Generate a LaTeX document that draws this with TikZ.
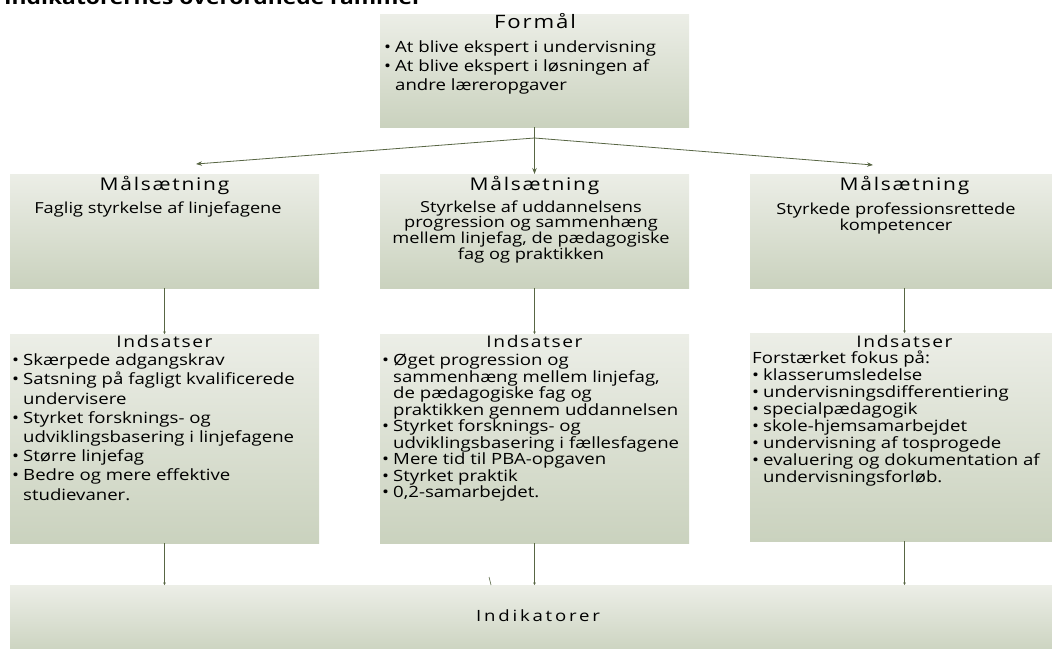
\documentclass[tikz,border=0pt]{standalone}
\usepackage{fontspec}
\setmainfont{Open Sans}[FakeStretch=1.2]
\newfontfamily\hfont{Open Sans}[FakeStretch=1.2,LetterSpace=10]
\newfontfamily\ifont{Open Sans}[FakeStretch=1.2,LetterSpace=18]
\usetikzlibrary{arrows.meta}
\definecolor{boxtop}{RGB}{236,238,231}
\definecolor{boxbot}{RGB}{202,210,190}
\definecolor{conn}{RGB}{88,102,68}
\newcommand\bl{\makebox[0pt][r]{\textbullet\hspace{4pt}}}
\newcommand\fl{\rule{0pt}{13pt}}
\begin{document}
\begin{tikzpicture}[x=1pt,y=-1pt,
  box/.style={rectangle,draw=none,inner sep=0,outer sep=0,top color=boxtop,bottom color=boxbot,anchor=north west},
  head/.style={inner sep=0,anchor=base,font=\hfont\fontsize{17.5}{20}\selectfont},
  body/.style={inner sep=0,anchor=north west,align=left,font=\fontsize{15.5}{19.2}\selectfont},
  goal/.style={inner sep=0,anchor=north,align=center,font=\fontsize{15.2}{15.6}\selectfont},
  link/.style={draw=conn,line width=0.8pt},
  arr/.style={-{Stealth[length=6pt,width=4.5pt]}},
  tiny/.style={-{Stealth[length=2.5pt,width=2.5pt]}}]
\useasboundingbox (0,0) rectangle (1052,648);
% boxes
\node[box,minimum width=309pt,minimum height=113pt] (f) at (380,14) {};
\node[box,minimum width=309pt,minimum height=114pt] (m1) at (10,174) {};
\node[box,minimum width=309pt,minimum height=114pt] (m2) at (380,174) {};
\node[box,minimum width=309pt,minimum height=114pt] (m3) at (750,174) {};
\node[box,minimum width=309pt,minimum height=209pt] (i1) at (10,334) {};
\node[box,minimum width=309pt,minimum height=209pt] (i2) at (380,334) {};
\node[box,minimum width=309pt,minimum height=208pt] (i3) at (750,333) {};
\node[box,minimum width=1050pt,minimum height=70pt] (ind) at (10,585) {};
% title (cut by the top edge)
\node[inner sep=0,anchor=base west,font=\bfseries\fontsize{19}{20}\selectfont] (title) at (4,4.5) {Indikatorernes overordnede rammer};
% Formål
\node[head,font=\hfont\fontsize{18.5}{20}\selectfont] (fh) at (535,28.3) {Formål};
\node[body] (fb) at (395,39) {\bl\fl At blive ekspert i undervisning\\ \bl At blive ekspert i løsningen af\\ andre læreropgaver};
% Målsætning
\node[head] (m1h) at (164.5,190) {Målsætning};
\node[head] (m2h) at (534.5,190) {Målsætning};
\node[head] (m3h) at (904.5,190) {Målsætning};
\node[goal] (m1b) at (158,200) {\fl Faglig styrkelse af linjefagene};
\node[goal] (m2b) at (531,199) {\fl Styrkelse af uddannelsens\\ progression og sammenhæng\\ mellem linjefag, de pædagogiske\\ fag og praktikken};
\node[goal,font=\fontsize{15.2}{16}\selectfont] (m3b) at (896,201) {\fl Styrkede professionsrettede\\ kompetencer};
% Indsatser
\node[head,font=\hfont\fontsize{16}{20}\selectfont] (i1h) at (164.5,347.5) {Indsatser};
\node[head,font=\hfont\fontsize{16}{20}\selectfont] (i2h) at (534.5,347.5) {Indsatser};
\node[head,font=\hfont\fontsize{16}{20}\selectfont] (i3h) at (904.5,347) {Indsatser};
\node[body] (i1b) at (23,352.5) {\bl\fl Skærpede adgangskrav\\ \bl Satsning på fagligt kvalificerede\\ undervisere\\ \bl Styrket forsknings- og\\ udviklingsbasering i linjefagene\\ \bl Større linjefag\\ \bl Bedre og mere effektive\\ studievaner.};
\node[body,font=\fontsize{15.5}{16.5}\selectfont] (i2b) at (393,352.5) {\bl\fl Øget progression og\\ sammenhæng mellem linjefag,\\ de pædagogiske fag og\\ praktikken gennem uddannelsen\\ \bl Styrket forsknings- og\\ udviklingsbasering i fællesfagene\\ \bl Mere tid til PBA-opgaven\\ \bl Styrket praktik\\ \bl 0,2-samarbejdet.};
\node[body,font=\fontsize{15.5}{17}\selectfont] (i3b) at (752,350) {\fl Forstærket fokus på:\\ \hspace*{11pt}\bl klasserumsledelse\\ \hspace*{11pt}\bl undervisningsdifferentiering\\ \hspace*{11pt}\bl specialpædagogik\\ \hspace*{11pt}\bl skole-hjemsamarbejdet\\ \hspace*{11pt}\bl undervisning af tosprogede\\ \hspace*{11pt}\bl evaluering og dokumentation af\\ \hspace*{11pt}undervisningsforløb.};
% Indikatorer
\node[inner sep=0,anchor=base,font=\ifont\fontsize{15.5}{18}\selectfont] (indt) at (538,621) {Indikatorer};
% connectors
\coordinate (br) at (534.5,138);
\coordinate (la) at (196,164);
\coordinate (ra) at (873,165);
\draw[link,arr] (f.south) -- (m2.north);
\draw[link,arr] (br) -- (la);
\draw[link,arr] (br) -- (ra);
\draw[link,line width=0.6pt,tiny] (m1.south) -- (i1.north);
\draw[link,line width=0.6pt,tiny] (m2.south) -- (i2.north);
\draw[link,line width=0.6pt,tiny] (m3.south) -- (i3.north);
\draw[link,line width=0.6pt,tiny] (i1.south) -- (i1.south |- ind.north);
\draw[link,line width=0.6pt,tiny] (i2.south) -- (i2.south |- ind.north);
\draw[link,line width=0.6pt,tiny] (i3.south) -- (i3.south |- ind.north);
\coordinate (s1) at (489,577);
\coordinate (s2) at (491,585);
\draw[link,line width=0.6pt] (s1) -- (s2);
\end{tikzpicture}
\end{document}
